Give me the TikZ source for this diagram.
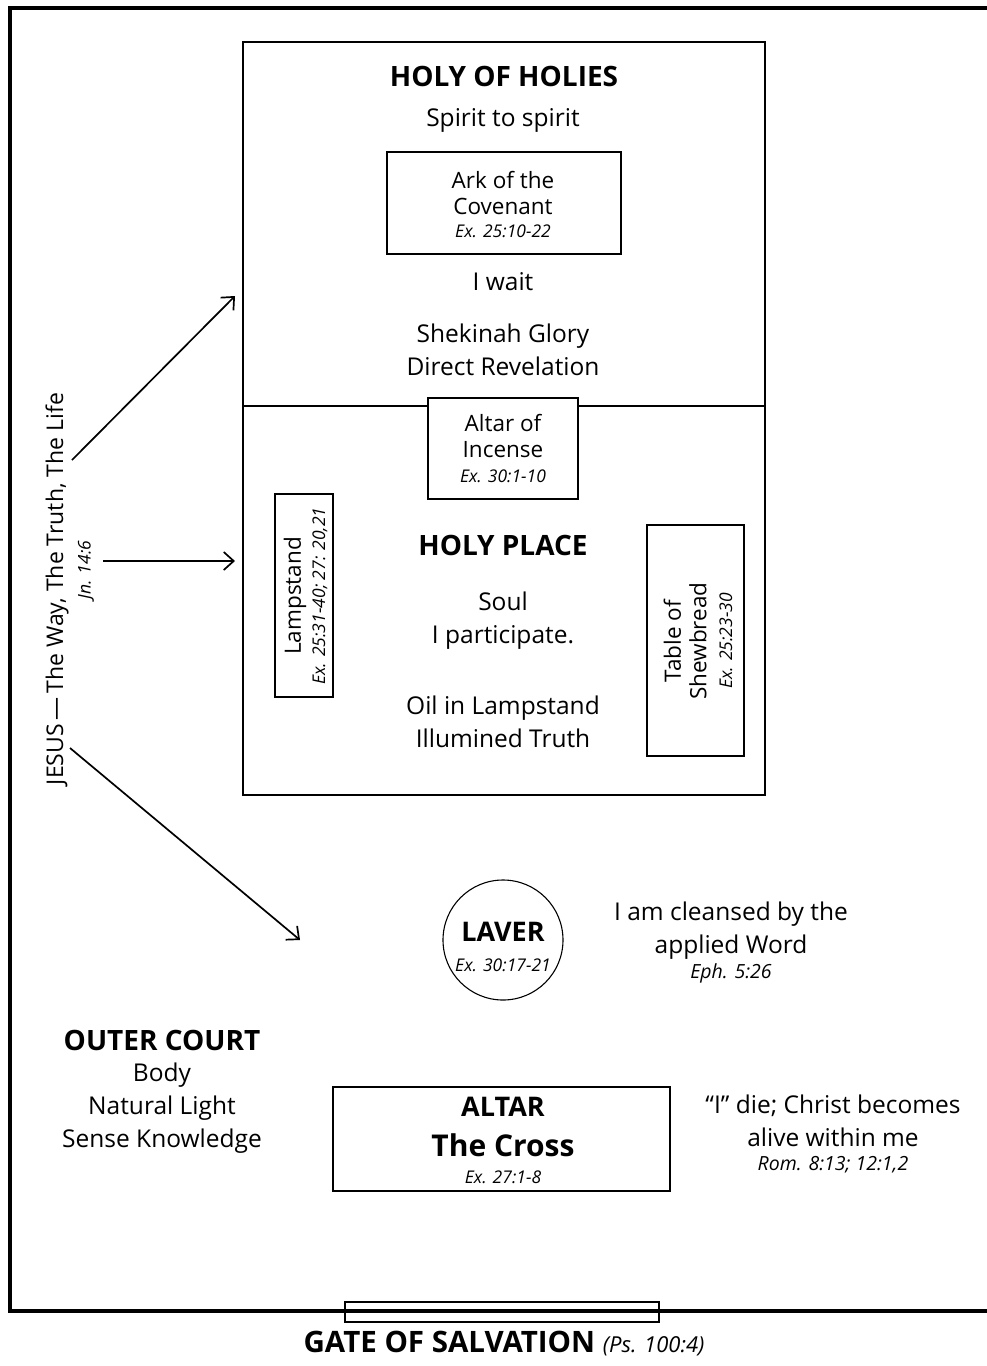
\documentclass[tikz,border=0pt]{standalone}
\usepackage{fontspec}
\setmainfont{Open Sans}
\usetikzlibrary{arrows.meta}
\newcommand\fHead{\fontsize{28}{33}\selectfont\bfseries}
\newcommand\fBody{\fontsize{24.5}{33}\selectfont}
\newcommand\fBox{\fontsize{22.5}{25.5}\selectfont}
\newcommand\fRef{\fontsize{17.5}{22}\selectfont\itshape}
\newcommand\fRefL{\fontsize{19.5}{22}\selectfont\itshape}
\begin{document}
\begin{tikzpicture}[x=1pt,y=-1pt,
  wall/.style={line width=4pt},
  room/.style={draw,line width=1.8pt},
  furn/.style={draw,line width=1.1pt,fill=white},
  txt/.style={inner sep=0pt,align=center},
  arr/.style={line width=1.7pt,-{Straight Barb[length=10pt,width=18pt]}}
]
\useasboundingbox (0,0) rectangle (987,1366);
% outer court wall
\draw[wall] (990,8) -- (10,8) -- (10,1311) -- (990,1311);
% gate
\node[draw,line width=1.3pt,minimum width=314pt,minimum height=20pt,inner sep=0pt] (gate) at (502,1312) {};
\node[txt] (gatetxt) at (504,1344) {\fontsize{29.5}{32}\selectfont\bfseries GATE OF SALVATION {\mdseries\itshape\fontsize{22}{24}\selectfont(Ps. 100:4)}};

% tabernacle
\node[room,minimum width=522pt,minimum height=364pt,inner sep=0pt] (hoh) at (504,224) {};
\node[room,minimum width=522pt,minimum height=389pt,inner sep=0pt] (hp) at (504,600.5) {};

% Holy of Holies
\node[txt,font=\fHead] (hohT) at (504,76) {HOLY OF HOLIES};
\node[txt,font=\fBody] (spirit) at (503,120) {Spirit to spirit};
\node[furn,minimum width=234pt,minimum height=102pt,inner sep=0pt] (ark) at (504,203) {};
\node[txt,font=\fBox] (arkT) at (503,193) {Ark of the\\Covenant};
\node[txt,font=\fRef] (arkR) at (503,231) {Ex. 25:10-22};
\node[txt,font=\fBody] (wait) at (503,282) {I wait};
\node[txt,font=\fBody] (glory) at (503,350) {Shekinah Glory\\Direct Revelation};

% Holy Place
\node[furn,minimum width=150pt,minimum height=101pt,inner sep=0pt] (incense) at (503,448.5) {};
\node[txt,font=\fBox] (incT) at (503,436) {Altar of\\Incense};
\node[txt,font=\fRef] (incR) at (503,476) {Ex. 30:1-10};
\node[txt,font=\fHead] (hpT) at (503,545) {HOLY PLACE};
\node[txt,font=\fBody] (soul) at (503,621) {Soul\\I participate.};
\node[txt,font=\fBody] (oil) at (503,722) {Oil in Lampstand\\Illumined Truth};
\node[furn,minimum width=58pt,minimum height=203pt,inner sep=0pt] (lamp) at (304,595.5) {};
\node[txt,rotate=90,font=\fBox] (lampT) at (295,596) {Lampstand};
\node[txt,rotate=90,font=\fRef] (lampR) at (320,596) {Ex. 25:31-40; 27: 20,21};
\node[furn,minimum width=97pt,minimum height=231pt,inner sep=0pt] (table) at (695.5,640.5) {};
\node[txt,rotate=90,font=\fBox] (tableT) at (685,641) {Table of\\Shewbread};
\node[txt,rotate=90,font=\fRef] (tableR) at (726,641) {Ex. 25:23-30};

% Jesus
\node[txt,rotate=90,font={\fontsize{23}{28}\selectfont}] (jesus) at (57,589) {JESUS\,---\,The Way, The Truth, The Life};
\node[txt,rotate=90,font=\fRef] (jn) at (86,570) {Jn. 14:6};
\coordinate (aU0) at (72,460);
\coordinate (aU1) at (235,296);
\coordinate (aM0) at (103,561);
\coordinate (aM1) at (235,561);
\coordinate (aL0) at (70,748);
\coordinate (aL1) at (300,940);
\draw[arr] (aU0) -- (aU1);
\draw[arr] (aM0) -- (aM1);
\draw[arr] (aL0) -- (aL1);

% Laver
\node[draw,circle,line width=1.1pt,minimum size=120pt,inner sep=0pt] (laver) at (503,940) {};
\node[txt,font={\fontsize{27}{30}\selectfont\bfseries}] (laverT) at (503,932) {LAVER};
\node[txt,font=\fRef] (laverR) at (503,965) {Ex. 30:17-21};
\node[txt,font=\fBody] (cleansed) at (731,931) {I am cleansed by the\\applied Word};
\node[txt,font=\fRefL] (eph) at (731,973) {Eph. 5:26};

% Outer court
\node[txt,font=\fHead] (ocT) at (162,1040) {OUTER COURT};
\node[txt,font=\fBody] (body) at (162,1108) {Body\\Natural Light\\Sense Knowledge};

% Altar
\node[furn,minimum width=337pt,minimum height=104pt,inner sep=0pt] (altar) at (501.5,1139) {};
\node[txt,font={\fontsize{27}{30}\selectfont\bfseries}] (altarT) at (503,1107) {ALTAR};
\node[txt,font={\fontsize{30}{33}\selectfont\bfseries}] (cross) at (503,1145) {The Cross};
\node[txt,font=\fRef] (altarR) at (503,1177) {Ex. 27:1-8};
\node[txt,font=\fBody] (die) at (833,1121) {“I” die; Christ becomes\\alive within me};
\node[txt,font=\fRefL] (rom) at (833,1165) {Rom. 8:13; 12:1,2};
\end{tikzpicture}
\end{document}
